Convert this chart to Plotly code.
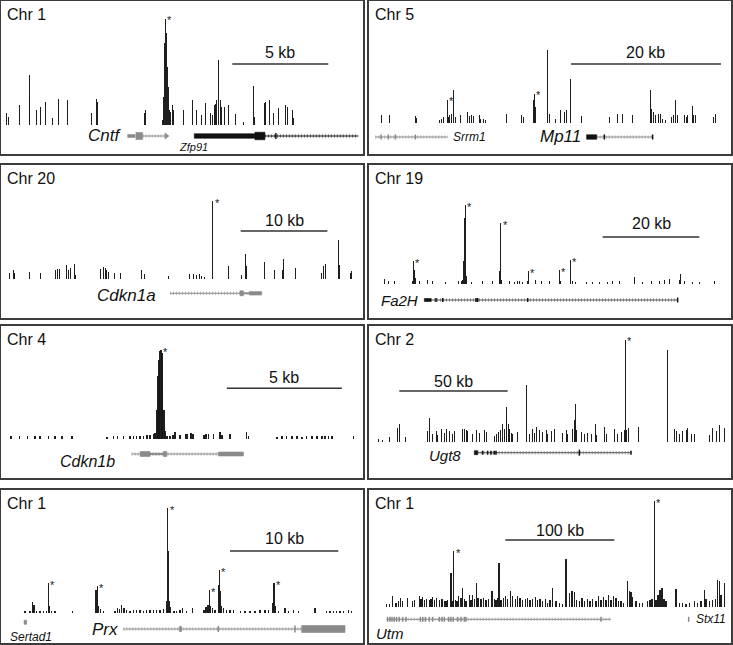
import plotly.graph_objects as go

W, H = 733, 645
FONT = "Arial, 'Liberation Sans', Helvetica, sans-serif"
BAR = "rgba(22,22,22,0.96)"
GRAY = "#8a8a8a"
BLACK = "#111111"

# ---------------- values ----------------
PANEL_CHR = ["Chr 1", "Chr 5", "Chr 20", "Chr 19", "Chr 4", "Chr 2", "Chr 1", "Chr 1"]
VIEW_START_KB = [0.05, 0.40, 0.12, 0.62, 0.04, 1.38, 0.09, 2.75]
VIEW_END_KB = [18.91, 48.67, 41.88, 75.52, 15.78, 168.46, 33.51, 334.86]
SCALE_LEN_KB = [5, 20, 10, 20, 5, 50, 10, 100]
SCALE_START_KB = [12.10, 27.33, 27.77, 48.97, 9.86, 15.38, 21.23, 127.83]
SCALE_LABELS = ["5 kb", "20 kb", "10 kb", "20 kb", "5 kb", "50 kb", "10 kb", "100 kb"]

# signal tracks: (position kb, signal height)
SIG_CNTF = [(0.35,12),(0.42,8),(0.99,20),(1.51,50),(1.56,28),(1.91,15),(2.12,18),(2.38,23),(2.74,7),(3.06,26),
            (3.54,25),(4.74,12),(5.03,26),(5.09,23),(7.50,12),(7.57,15),(8.45,5),(8.51,28),(8.56,82),(8.61,106),
            (8.66,92),(8.71,58),(8.77,38),(8.82,15),(8.89,13),(8.96,20),(9.03,15),(9.55,15),(10.03,25),(10.24,15),
            (10.47,10),(10.73,22),(10.97,12),(11.06,10),(11.15,20),(11.23,21),(11.28,25),(11.37,65),(11.46,25),
            (11.54,18),(11.67,18),(11.89,20),(12.29,11),(12.67,3),(13.23,39),(13.28,8),(13.80,22),(13.85,23),
            (14.06,25),(14.27,12),(14.50,17),(14.89,20),(14.96,18),(15.24,15),(15.31,7)]
SIG_MPL = [(2.13,8),(3.11,8),(6.58,7),(6.76,5),(9.78,3),(10.00,4),(10.31,6),(10.84,23),(11.02,6),(11.20,8),
           (11.38,9),(11.69,33),(11.91,6),(12.58,8),(13.56,11),(13.78,7),(14.13,8),(14.36,7),(15.11,8),(15.33,4),
           (15.64,4),(15.91,3),(18.67,9),(20.80,8),(20.98,6),(22.31,23),(22.44,29),(22.58,16),(24.22,73),(24.44,9),
           (25.24,4),(25.87,13),(26.53,11),(26.76,13),(27.24,44),(28.67,7),(32.44,6),(33.56,9),(34.22,9),(35.56,8),
           (38.00,33),(38.13,14),(38.31,11),(38.58,8),(39.02,9),(39.24,9),(39.56,4),(39.91,3),(40.67,6),(40.98,8),
           (41.33,23),(41.56,8),(42.44,8),(42.67,6),(42.89,8),(43.47,17),(43.69,8),(44.00,8),(46.36,6),(46.58,9)]
SIG_CDKN1A = [(1.08,6),(1.54,9),(1.73,6),(3.38,7),(4.62,6),(6.46,9),(6.65,10),(6.85,10),(7.69,14),(7.88,9),
              (8.08,11),(8.65,15),(8.77,4),(11.54,10),(11.92,12),(12.12,11),(12.31,9),(12.50,7),(13.19,6),(13.92,6),
              (16.35,9),(16.73,5),(19.42,3),(21.92,5),(22.31,5),(22.69,4),(23.00,5),(23.27,3),(23.54,2),(24.54,78),
              (26.35,13),(27.88,4),(28.27,25),(28.46,13),(30.50,17),(31.62,9),(32.62,9),(32.69,20),(34.15,11),
              (37.12,6),(37.38,13),(37.58,15),(39.04,39),(39.12,14),(40.38,6),(40.58,8)]
SIG_FA2H = [(3.79,5),(4.69,3),(5.86,3),(9.52,3),(9.79,23),(10.00,14),(10.21,6),(11.03,3),(12.76,4),(13.79,3),
            (16.41,2),(19.17,3),(19.66,3),(20.00,4),(20.21,23),(20.41,66),(20.55,79),(20.69,8),(21.86,2),(24.14,3),
            (26.07,3),(27.72,13),(27.86,61),(28.07,4),(29.66,3),(30.69,2),(31.38,3),(31.86,3),(32.41,2),(33.45,3),
            (33.59,13),(35.17,4),(36.21,3),(37.93,3),(40.00,14),(40.21,3),(42.21,24),(42.41,4),(42.76,3),(43.31,2),
            (45.52,2),(46.90,2),(48.28,2),(50.00,2),(51.03,3),(52.41,3),(55.52,7),(57.24,2),(58.97,3),(60.69,3),
            (61.72,4),(62.76,5),(64.83,4),(65.17,10),(65.86,3),(67.59,2),(68.97,2),(72.07,3)]
SIG_CDKN1B = [(0.48,3),(0.84,3),(1.20,3),(1.52,3),(1.74,3),(2.10,3),(2.39,3),(2.68,3),(3.12,3),(4.64,2),
              (4.93,3),(5.10,3),(5.36,3),(5.65,3),(5.80,3),(5.94,3),(6.09,3),(6.23,3),(6.38,4),(6.52,4),(6.67,5),
              (6.74,6),(6.81,29),(6.86,63),(6.90,79),(6.94,88),(6.99,89),(7.03,86),(7.07,49),(7.12,29),(7.16,8),
              (7.25,3),(7.39,3),(7.51,4),(7.61,7),(7.83,4),(8.07,5),(8.14,5),(8.29,6),(8.38,5),(8.87,4),(8.96,5),
              (9.06,5),(9.28,5),(9.57,7),(9.64,4),(10.00,5),(10.72,7),(10.80,3),(12.03,2),(12.25,3),(12.46,3),
              (12.68,3),(12.90,3),(13.12,2),(13.33,3),(13.55,3),(13.77,3),(13.99,3),(14.13,3),(14.28,3),(14.42,3),
              (15.36,3)]
SIG_UGT8 = [(5.85,3),(7.69,2),(10.77,5),(14.62,14),(15.38,18),(18.15,5),(28.15,11),(29.23,24),(30.46,8),(32.31,11),
            (33.08,7),(34.62,13),(36.15,9),(37.23,13),(38.46,11),(39.69,8),(40.77,11),(44.62,13),(45.38,13),
            (46.15,12),(46.92,11),(49.23,8),(50.77,12),(52.31,9),(54.62,12),(55.38,10),(59.23,6),(60.31,8),
            (61.23,10),(62.00,12),(63.08,18),(63.85,13),(64.62,23),(64.92,35),(65.54,18),(66.15,13),(66.92,9),
            (67.69,8),(70.00,10),(74.15,57),(75.38,8),(76.92,13),(77.69,9),(78.77,15),(80.00,12),(81.54,10),
            (83.08,12),(83.85,8),(85.38,11),(86.92,13),(90.77,9),(92.31,12),(93.08,8),(95.08,13),(96.15,22),
            (96.62,38),(97.23,12),(99.23,10),(100.77,8),(102.31,9),(103.85,8),(105.85,18),(106.46,7),(110.00,15),
            (110.77,8),(114.62,13),(116.15,8),(117.69,10),(119.23,12),(119.69,102),(120.31,12),(121.08,14),
            (125.69,15),(138.92,92),(142.31,13),(143.08,11),(144.62,8),(146.15,11),(147.69,12),(148.46,14),
            (150.00,8),(151.54,8),(158.46,7),(160.00,14),(161.54,11),(163.08,17),(165.38,14)]
SIG_PRX = [(2.31,2),(2.77,2),(3.02,11),(3.14,8),(3.38,2),(3.69,2),(4.00,2),(4.31,2),(4.46,30),(4.55,7),(4.77,2),
           (5.08,2),(6.71,2),(8.86,23),(8.98,27),(9.11,7),(9.29,4),(9.54,2),(10.62,2),(10.83,5),(11.02,4),(11.23,8),
           (11.45,5),(11.69,3),(12.00,2),(12.31,3),(12.62,3),(12.92,3),(13.23,2),(13.54,3),(13.85,3),(14.15,3),
           (14.46,3),(14.77,3),(15.08,4),(15.38,12),(15.48,105),(15.57,62),(15.66,12),(15.75,6),(16.06,2),(16.31,2),
           (16.62,3),(16.86,5),(17.23,2),(17.78,5),(18.83,3),(19.02,6),(19.20,8),(19.32,23),(19.45,7),(19.63,5),
           (19.85,3),(20.15,28),(20.25,43),(20.34,22),(20.46,7),(20.62,5),(20.92,3),(21.23,3),(21.54,3),(22.22,2),
           (22.62,2),(23.08,2),(23.54,2),(24.00,3),(24.46,3),(24.77,3),(25.17,10),(25.29,30),(25.42,7),(25.69,2),
           (26.31,5),(26.62,2),(27.08,3),(27.54,2),(29.08,5),(30.15,2),(30.46,2),(30.77,2),(31.08,2),(31.38,2),
           (31.69,2),(32.15,3),(32.46,2)]
SIG_UTRN = [(18.96,3),(21.41,3),(24.46,11),(27.52,4),(29.97,6),(31.50,9),(33.64,6),(38.23,9),(42.81,6),(44.34,7),
            (48.93,11),(50.46,8),(51.99,10),(53.52,7),(55.66,8),(58.10,7),(59.63,8),(61.16,10),(62.69,7),(64.83,9),
            (67.28,7),(69.72,8),(71.87,6),(73.39,6),(74.92,7),(77.98,34),(79.51,6),(80.43,56),(81.96,7),(83.49,6),
            (85.02,11),(87.16,9),(88.68,19),(90.21,8),(91.74,6),(94.80,12),(96.33,7),(97.86,12),(99.39,8),
            (101.53,24),(102.75,9),(105.50,8),(107.65,9),(110.09,7),(112.54,8),(115.60,16),(117.74,8),(119.27,7),
            (120.80,9),(122.02,44),(123.85,7),(125.99,9),(127.83,11),(129.97,8),(132.42,16),(134.56,11),(137.00,8),
            (139.14,11),(141.28,9),(143.73,7),(146.18,8),(148.32,9),(150.46,7),(152.91,8),(155.35,10),(157.49,7),
            (159.63,8),(162.08,6),(164.53,8),(166.67,4),(168.81,7),(171.25,19),(174.31,6),(177.37,4),(180.43,3),
            (183.49,48),(186.54,14),(188.99,16),(191.13,15),(193.27,7),(195.72,6),(198.17,9),(200.31,6),(203.36,8),
            (205.50,6),(207.95,8),(211.01,6),(213.46,11),(215.60,7),(217.74,10),(220.18,7),(222.63,12),(224.77,7),
            (226.91,11),(229.36,9),(231.80,6),(233.94,6),(236.09,4),(240.06,26),(241.59,16),(243.12,15),(244.65,10),
            (247.71,6),(250.76,4),(253.82,4),(258.41,6),(260.55,7),(262.39,8),(264.53,106),(266.06,7),(267.89,12),
            (269.72,17),(271.56,19),(273.39,8),(275.23,6),(284.40,18),(287.46,4),(290.52,4),(293.58,3),(296.64,4),
            (301.22,6),(304.28,4),(307.34,6),(310.40,17),(311.93,8),(314.98,6),(318.04,7),(320.49,8),(322.63,27),
            (324.16,26),(325.69,12),(328.75,24)]
SIGNALS = [SIG_CNTF, SIG_MPL, SIG_CDKN1A, SIG_FA2H, SIG_CDKN1B, SIG_UGT8, SIG_PRX, SIG_UTRN]

# peaks flagged with an asterisk (kb)
PEAKS_MARKED = [[8.61], [10.84, 22.44], [24.54], [9.79, 20.55, 27.86, 33.59, 40.00, 42.21], [6.99], [119.69],
                [4.46, 8.98, 15.48, 19.32, 20.25, 25.29], [80.43, 264.53]]

UTRN_EXONS_KB = [19.88, 22.02, 23.85, 25.99, 28.13, 30.58, 33.64, 36.70, 49.85, 51.99, 54.43, 58.10, 61.16,
                 67.28, 69.72, 71.87, 75.84, 77.98, 80.12, 84.10, 87.16, 90.21, 91.74, 215.60]

GENES = [
    [dict(name="Cntf", color=GRAY, intron=(7.43, 8.62), exons=[(6.65, 7.03, 3), (7.08, 7.43, 7)], ticks=[],
          arrow=8.66, label_x=6.42, anchor="right", size=17, label_y=18),
     dict(name="Zfp91", color=BLACK, intron=(13.80, 18.66), exons=[(10.12, 13.28, 4.5), (13.28, 13.80, 7.5)],
          ticks=[(14.37, 6)], label_x=10.10, anchor="center", size=11, label_y=7)],
    [dict(name="Srrm1", color=GRAY, intron=(1.24, 10.89), exons=[],
          ticks=[(2.00, 5), (2.98, 5), (3.91, 5), (6.58, 5)], label_x=11.33, anchor="left", size=12, label_y=17),
     dict(name="Mp11", color=BLACK, intron_color=GRAY, intron=(30.76, 38.22), exons=[(29.42, 30.76, 4.5)],
          ticks=[(31.78, 5), (38.22, 5)], label_x=28.89, anchor="right", size=17, label_y=17)],
    [dict(name="Cdkn1a", color=GRAY, intron=(19.62, 27.69),
          exons=[(27.69, 28.08, 5), (28.08, 28.77, 1.5), (28.77, 30.19, 3.5)], ticks=[],
          label_x=18.27, anchor="right", size=17, label_y=23)],
    [dict(name="Fa2H", color=BLACK, intron_color="#555555", intron=(13.45, 64.48), exons=[(12.07, 13.45, 3)],
          ticks=[(14.48, 4), (15.86, 4), (22.76, 4), (23.10, 4), (33.45, 4), (64.48, 5)],
          label_x=2.76, anchor="left", size=15, label_y=18)],
    [dict(name="Cdkn1b", color=GRAY, intron=(5.72, 9.49),
          exons=[(6.09, 6.52, 5), (6.52, 7.10, 1.5), (7.10, 7.25, 5), (9.49, 10.58, 4)], ticks=[],
          label_x=5.07, anchor="right", size=16, label_y=16.3)],
    [dict(name="Ugt8", color=BLACK, intron_color="#555555", intron=(51.54, 122.31), exons=[(50.0, 51.54, 4)],
          ticks=[(53.85, 4), (56.15, 4), (57.69, 4), (59.23, 4), (60.0, 4), (98.46, 6), (122.31, 4)],
          label_x=44.62, anchor="right", size=15, label_y=23)],
    [dict(name="Sertad1", color=GRAY, intron=None, exons=[(2.22, 2.46, 4)], ticks=[], y=20.7,
          label_x=0.77, anchor="left", size=12, label_y=6.3),
     dict(name="Prx", color=GRAY, intron=(11.38, 27.85), exons=[(16.55, 16.77, 5), (27.85, 31.85, 7)],
          ticks=[(20.15, 6), (27.23, 7)], label_x=11.08, anchor="right", size=17, label_y=14)],
    [dict(name="Utm", color=GRAY, intron=(18.96, 224.77), exons=[], ticks=[(x, 5) for x in UTRN_EXONS_KB],
          label_x=7.65, anchor="left", size=15, label_y=10),
     dict(name="Stx11", color=GRAY, intron=None, exons=[], ticks=[(296.02, 5)],
          label_x=301.22, anchor="left", size=12, label_y=23.7)],
]

# ---------------- layout (pixels) ----------------
PANEL_BOX = [(1, 363, 1, 154), (369, 731, 1, 154), (1, 363, 165, 318), (369, 731, 165, 318),
             (1, 363, 326, 478), (369, 731, 326, 478), (1, 363, 490, 643), (369, 731, 490, 643)]
SIG_BASE = [29, 31, 38.7, 33.7, 38.7, 36.3, 29.7, 35.7]
TRACK_Y = [18, 17, 24.7, 18, 24, 25.3, 14, 23.7]
SCALE_Y = [90, 90, 87, 81, 89.7, 87, 92, 103]
SCALE_TEXT_Y = [101, 101, 98, 95, 101, 97, 104.7, 113]
BAR_PX = [1.0, 1.0, 1.0, 1.0, 1.6, 1.0, 1.3, 1.3]

fig = go.Figure()
shapes, annotations, axes = [], [], {}

for i in range(8):
    x0, x1, y0, y1 = PANEL_BOX[i]
    n = "" if i == 0 else str(i + 1)
    xa, ya = "x" + n, "y" + n
    common = dict(showgrid=False, zeroline=False, showticklabels=False, ticks="", showline=True, mirror=True,
                  linecolor="#3c3c3c", linewidth=1.5, fixedrange=True)
    axes["xaxis" + n] = dict(domain=[x0 / W, x1 / W], range=[VIEW_START_KB[i], VIEW_END_KB[i]], anchor=ya, **common)
    axes["yaxis" + n] = dict(domain=[1 - y1 / H, 1 - y0 / H], range=[0, y1 - y0], anchor=xa, **common)
    kb_per_px = (VIEW_END_KB[i] - VIEW_START_KB[i]) / (x1 - x0)

    sig = SIGNALS[i]
    fig.add_trace(go.Bar(x=[p for p, _ in sig], y=[h for _, h in sig], base=SIG_BASE[i],
                         width=BAR_PX[i] * kb_per_px, marker=dict(color=BAR, line=dict(width=0)),
                         xaxis=xa, yaxis=ya, hoverinfo="skip", showlegend=False))

    # chromosome label
    annotations.append(dict(text=PANEL_CHR[i], xref="paper", yref="paper", x=(x0 + 4) / W,
                            y=1 - (y0 + 13.5) / H, xanchor="left", yanchor="middle", showarrow=False,
                            font=dict(family=FONT, size=16, color="#111")))
    # scale bar
    s0 = SCALE_START_KB[i]
    s1 = s0 + SCALE_LEN_KB[i]
    shapes.append(dict(type="line", xref=xa, yref=ya, x0=s0, x1=s1, y0=SCALE_Y[i], y1=SCALE_Y[i],
                       line=dict(color="#333", width=1.4)))
    annotations.append(dict(text=SCALE_LABELS[i], xref=xa, yref=ya, x=(s0 + s1) / 2, y=SCALE_TEXT_Y[i],
                            showarrow=False, xanchor="center", yanchor="middle",
                            font=dict(family=FONT, size=16, color="#111")))
    # asterisks over marked peaks
    for pk in PEAKS_MARKED[i]:
        pos, h = min(sig, key=lambda t: abs(t[0] - pk))
        annotations.append(dict(text="*", xref=xa, yref=ya, x=pos, y=SIG_BASE[i] + h - 1.5, xshift=4.5,
                                showarrow=False, xanchor="center", yanchor="middle",
                                font=dict(family=FONT, size=11, color="#222")))
    # gene models
    for g in GENES[i]:
        gy = g.get("y", TRACK_Y[i])
        col = g["color"]
        icol = g.get("intron_color", col)
        if g["intron"]:
            a, b = g["intron"]
            fig.add_trace(go.Scatter(x=[a, b], y=[gy, gy], mode="lines", line=dict(color=icol, width=1),
                                     xaxis=xa, yaxis=ya, hoverinfo="skip", showlegend=False))
            fig.add_trace(go.Scatter(x=[a, b], y=[gy, gy], mode="lines",
                                     line=dict(color=icol, width=3.5, dash="1px,2px"), opacity=0.55,
                                     xaxis=xa, yaxis=ya, hoverinfo="skip", showlegend=False))
        for (a, b, hh) in g["exons"]:
            shapes.append(dict(type="rect", xref=xa, yref=ya, x0=a, x1=b, y0=gy - hh / 2, y1=gy + hh / 2,
                               fillcolor=col, line=dict(width=0.6, color=col)))
        for (t, hh) in g["ticks"]:
            shapes.append(dict(type="line", xref=xa, yref=ya, x0=t, x1=t, y0=gy - hh / 2, y1=gy + hh / 2,
                               line=dict(color=col, width=1.5)))
        if g.get("arrow"):
            fig.add_trace(go.Scatter(x=[g["arrow"]], y=[gy], mode="markers",
                                     marker=dict(symbol="triangle-right", size=6, color=col),
                                     xaxis=xa, yaxis=ya, hoverinfo="skip", showlegend=False))
        annotations.append(dict(text="<i>%s</i>" % g["name"], xref=xa, yref=ya, x=g["label_x"], y=g["label_y"],
                                showarrow=False, xanchor=g["anchor"], yanchor="middle",
                                font=dict(family=FONT, size=g["size"], color="#111")))

fig.update_layout(width=W, height=H, margin=dict(l=0, r=0, t=0, b=0), paper_bgcolor="white",
                  plot_bgcolor="white", barmode="overlay", bargap=0, showlegend=False,
                  shapes=shapes, annotations=annotations, **axes)
fig.write_html("out.html", config={"displayModeBar": False},
               post_script="document.body.style.margin='0';document.body.style.overflow='hidden';")
